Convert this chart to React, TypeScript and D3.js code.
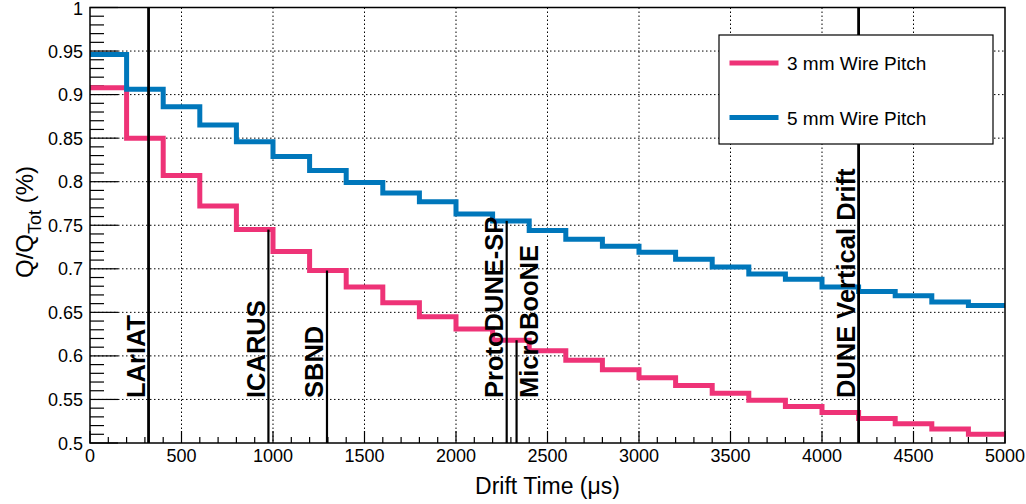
import React from "react";
import * as d3 from "d3";

const binEdges: number[] = [0, 200, 400, 600, 800, 1000, 1200, 1400, 1600, 1800, 2000, 2200, 2400, 2600, 2800, 3000, 3200, 3400, 3600, 3800, 4000, 4200, 4400, 4600, 4800, 5000];
const pitch3mm: number[] = [0.908, 0.85, 0.807, 0.772, 0.745, 0.72, 0.698, 0.679, 0.661, 0.645, 0.631, 0.618, 0.606, 0.595, 0.584, 0.575, 0.566, 0.557, 0.549, 0.542, 0.535, 0.528, 0.522, 0.516, 0.51];
const pitch5mm: number[] = [0.946, 0.906, 0.886, 0.865, 0.846, 0.829, 0.813, 0.799, 0.787, 0.777, 0.763, 0.755, 0.744, 0.734, 0.726, 0.719, 0.711, 0.702, 0.694, 0.688, 0.679, 0.674, 0.669, 0.662, 0.658];
const seriesNames: string[] = ["3 mm Wire Pitch", "5 mm Wire Pitch"];
const experiments: string[] = ["LArIAT", "ICARUS", "SBND", "ProtoDUNE-SP", "MicroBooNE", "DUNE Vertical Drift"];
const experimentTimes: number[] = [320, 975, 1295, 2277, 2331, 4200];
const experimentTops: number[] = [1.0, 0.745, 0.698, 0.755, 0.618, 1.0];
const xTicks: number[] = [0, 500, 1000, 1500, 2000, 2500, 3000, 3500, 4000, 4500, 5000];
const yTicks: number[] = [0.5, 0.55, 0.6, 0.65, 0.7, 0.75, 0.8, 0.85, 0.9, 0.95, 1];

const FONT = "'Liberation Sans', Arial, Helvetica, sans-serif";
const PINK = "#EE3377";
const BLUE = "#0077BB";

export default function App() {
  const W = 1026, H = 504;
  const left = 90, right = 1005, top = 7.5, bottom = 443;
  const x = d3.scaleLinear().domain([0, 5000]).range([left, right]);
  const y = d3.scaleLinear().domain([0.5, 1]).range([bottom, top]);

  const stepLine = d3
    .line<[number, number]>()
    .x((d) => x(d[0]))
    .y((d) => y(d[1]))
    .curve(d3.curveStepAfter);

  const toPts = (vals: number[]): [number, number][] => {
    const pts: [number, number][] = vals.map((v, i) => [binEdges[i], v]);
    pts.push([binEdges[binEdges.length - 1], vals[vals.length - 1]]);
    return pts;
  };

  const xMinor = d3.range(0, 5001, 100);
  const yMinor = d3.range(0, 51).map((i) => 0.5 + i * 0.01);
  const isMajorY = (v: number) => Math.abs(Math.round(v * 20) - v * 20) < 1e-6;

  const labelOffset = (name: string) => (name === "MicroBooNE" ? 21.5 : -3.5);
  const lineWidth = (i: number) => (experimentTops[i] >= 1 ? 2.8 : 2.2);

  const legendX = 719, legendY = 35, legendW = 274, legendH = 109;
  const colors = [PINK, BLUE];
  const seriesData = [pitch3mm, pitch5mm];

  return (
    <svg width={W} height={H} style={{ position: "absolute", left: 0, top: 0, background: "#fff" }} fontFamily={FONT}>
      <rect x={0} y={0} width={W} height={H} fill="#fff" />
      {/* grid */}
      <g stroke="#000" strokeWidth={1} strokeDasharray="1.5,2.5">
        {xTicks.slice(1, -1).map((t) => (
          <line key={"gx" + t} x1={x(t)} x2={x(t)} y1={top} y2={bottom} />
        ))}
        {yTicks.slice(1, -1).map((t) => (
          <line key={"gy" + t} x1={left} x2={right} y1={y(t)} y2={y(t)} />
        ))}
      </g>
      {/* ticks */}
      <g stroke="#000" strokeWidth={1.2}>
        {xMinor.map((t) => (
          <line key={"tx" + t} x1={x(t)} x2={x(t)} y1={bottom} y2={bottom - (t % 500 === 0 ? 12 : 6)} />
        ))}
        {yMinor.map((t, i) => (
          <line key={"ty" + i} x1={left} x2={left + (isMajorY(t) ? 28 : 14)} y1={y(t)} y2={y(t)} />
        ))}
      </g>
      {/* histograms */}
      {seriesData.map((vals, i) => (
        <path key={"s" + i} d={stepLine(toPts(vals)) || ""} fill="none" stroke={colors[i]} strokeWidth={5} />
      ))}
      {/* experiment lines */}
      {experiments.map((name, i) => (
        <line
          key={"e" + name}
          x1={x(experimentTimes[i])}
          x2={x(experimentTimes[i])}
          y1={bottom}
          y2={y(experimentTops[i])}
          stroke="#000"
          strokeWidth={lineWidth(i)}
        />
      ))}
      {experiments.map((name, i) => {
        const lx = x(experimentTimes[i]) + labelOffset(name);
        const ly = 398;
        return (
          <text
            key={"el" + name}
            x={lx}
            y={ly}
            transform={`rotate(-90 ${lx} ${ly})`}
            fontSize={25.5}
            fontWeight="bold"
            fill="#000"
          >
            {name}
          </text>
        );
      })}
      {/* frame */}
      <rect x={left} y={top} width={right - left} height={bottom - top} fill="none" stroke="#000" strokeWidth={1.5} />
      {/* tick labels */}
      <g fontSize={18} fill="#000">
        {xTicks.map((t) => (
          <text key={"lx" + t} x={x(t)} y={462} textAnchor="middle">
            {t}
          </text>
        ))}
        {yTicks.map((t) => (
          <text key={"ly" + t} x={83} y={Math.max(y(t) + 6.5, 15)} textAnchor="end">
            {String(t)}
          </text>
        ))}
      </g>
      {/* axis titles */}
      <text x={(left + right) / 2} y={494} textAnchor="middle" fontSize={23} fill="#000">
        Drift Time (μs)
      </text>
      <text x={33} y={222} transform="rotate(-90 33 222)" textAnchor="middle" fontSize={24} fill="#000">
        Q/Q
        <tspan fontSize={18} dy={8}>Tot</tspan>
        <tspan dy={-8}> (%)</tspan>
      </text>
      {/* legend */}
      <rect x={legendX} y={legendY} width={legendW} height={legendH} fill="#fff" stroke="#000" strokeWidth={1.2} />
      {seriesNames.map((n, i) => {
        const cy = i === 0 ? 63 : 117.5;
        return (
          <g key={"lg" + n}>
            <line x1={729.5} x2={778.5} y1={cy} y2={cy} stroke={colors[i]} strokeWidth={5} />
            <text x={787} y={cy + 7} fontSize={19} fill="#000">
              {n}
            </text>
          </g>
        );
      })}
    </svg>
  );
}
